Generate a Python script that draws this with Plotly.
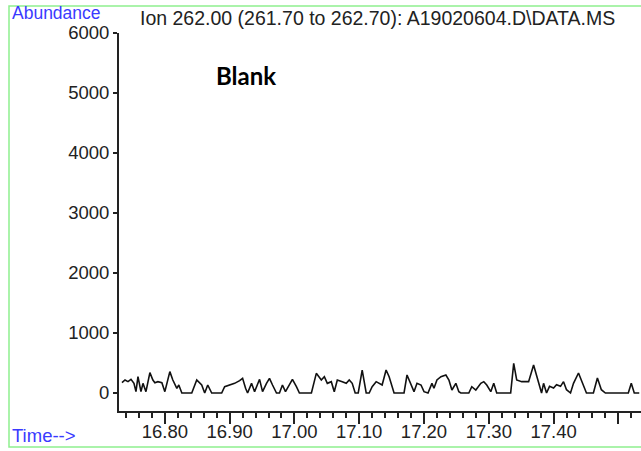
import plotly.graph_objects as go

# Retention time (min) and abundance for ion 262.00
time_min = [16.7338, 16.7385, 16.7431, 16.7477, 16.7523, 16.7554, 16.7585, 16.7631, 16.7662, 16.7708,
            16.7769, 16.7815, 16.7846, 16.7892, 16.7954, 16.8000, 16.8077, 16.8123, 16.8185, 16.8215,
            16.8262, 16.8415, 16.8492, 16.8569, 16.8615, 16.8662, 16.8723, 16.8877, 16.8923, 16.9000,
            16.9077, 16.9154, 16.9200, 16.9246, 16.9277, 16.9338, 16.9385, 16.9462, 16.9508, 16.9569,
            16.9615, 16.9662, 16.9723, 16.9769, 16.9815, 16.9862, 16.9923, 16.9969, 17.0031, 17.0077,
            17.0262, 17.0338, 17.0415, 17.0462, 17.0508, 17.0569, 17.0615, 17.0662, 17.0738, 17.0800,
            17.0846, 17.0892, 17.0938, 17.0985, 17.1046, 17.1108, 17.1154, 17.1200, 17.1262, 17.1308,
            17.1354, 17.1415, 17.1462, 17.1538, 17.1692, 17.1738, 17.1800, 17.1846, 17.1892, 17.1954,
            17.2000, 17.2062, 17.2123, 17.2154, 17.2200, 17.2262, 17.2338, 17.2385, 17.2431, 17.2492,
            17.2538, 17.2569, 17.2692, 17.2738, 17.2800, 17.2877, 17.2923, 17.2969, 17.3031, 17.3077,
            17.3123, 17.3338, 17.3385, 17.3431, 17.3508, 17.3615, 17.3692, 17.3769, 17.3815, 17.3846,
            17.3892, 17.3938, 17.4000, 17.4046, 17.4108, 17.4154, 17.4200, 17.4262, 17.4308, 17.4385,
            17.4446, 17.4508, 17.4615, 17.4677, 17.4738, 17.4800, 17.5154, 17.5200, 17.5246, 17.5323]
abundance = [172, 217, 189, 228, 161, 22, 272, 22, 161, 22,
             339, 217, 172, 189, 172, 22, 356, 217, 78, 133,
             0, 0, 217, 133, 0, 133, 0, 0, 105, 133,
             161, 205, 244, 78, 0, 161, 22, 228, 22, 161,
             244, 133, 0, 0, 133, 22, 133, 228, 105, 0,
             0, 328, 217, 272, 161, 189, 22, 217, 189, 161,
             217, 161, 0, 0, 383, 0, 0, 105, 189, 161,
             133, 383, 272, 0, 0, 300, 133, 22, 161, 133,
             22, 0, 161, 78, 217, 272, 300, 217, 50, 161,
             22, 0, 0, 105, 50, 161, 189, 133, 22, 161,
             0, 0, 494, 217, 189, 189, 467, 161, 0, 161,
             0, 111, 83, 139, 111, 189, 55, 0, 161, 333,
             161, 0, 0, 250, 55, 0, 0, 161, 0, 0]

x_tick_vals = [16.80, 16.90, 17.00, 17.10, 17.20, 17.30, 17.40, 17.50]
x_tick_text = ["16.80", "16.90", "17.00", "17.10", "17.20", "17.30", "17.40", ""]
y_tick_vals = [0, 1000, 2000, 3000, 4000, 5000, 6000]
y_tick_text = ["0", "1000", "2000", "3000", "4000", "5000", "6000"]

title_text = "Ion 262.00 (261.70 to 262.70): A19020604.D\\DATA.MS"
sample_label = "Blank"

FONT = "Liberation Sans, Arial, sans-serif"
FS = 18.5
W, H = 641, 451
L, R, T, B = 119, 0, 33, 40
pw, ph = W - L - R, H - T - B


def px(xp):
    return (xp - L) / pw


def py(yp):
    return (H - B - yp) / ph


fig = go.Figure()
fig.add_trace(go.Scatter(x=time_min, y=abundance, mode="lines",
                         line=dict(color="#111111", width=1.6),
                         hoverinfo="x+y", showlegend=False))

fig.update_layout(
    width=W, height=H,
    margin=dict(l=L, r=R, t=T, b=B, pad=0),
    paper_bgcolor="white", plot_bgcolor="white",
    font=dict(family=FONT, size=FS, color="#222222"),
    xaxis=dict(range=[16.7292, 17.535], showgrid=False, zeroline=False,
               showline=True, linecolor="#222222", linewidth=2,
               tickmode="array", tickvals=x_tick_vals, ticktext=x_tick_text,
               ticks="outside", ticklen=11, tickwidth=1.5, tickcolor="#222222",
               ticklabelstandoff=-8,
               minor=dict(dtick=0.02, tick0=16.74, ticks="outside", ticklen=5,
                          tickwidth=1.5, tickcolor="#222222", showgrid=False),
               tickfont=dict(family=FONT, size=FS, color="#222222")),
    yaxis=dict(range=[-300, 6000], showgrid=False, zeroline=False,
               showline=True, linecolor="#222222", linewidth=2,
               tickmode="array", tickvals=y_tick_vals, ticktext=y_tick_text,
               ticks="outside", ticklen=4, tickwidth=1.5, tickcolor="#222222",
               tickfont=dict(family=FONT, size=FS, color="#222222")),
)

# green frame around whole panel
fig.add_shape(type="rect", xref="paper", yref="paper",
              x0=px(9), x1=px(646), y0=py(447), y1=py(6),
              line=dict(color="#8ef08e", width=1.5), fillcolor="rgba(0,0,0,0)")

fig.add_annotation(text="Abundance", xref="paper", yref="paper",
                   x=px(10), y=py(13), xanchor="left", yanchor="middle",
                   showarrow=False, font=dict(family=FONT, size=17.5, color="#3a3aff"))
fig.add_annotation(text="Time-->", xref="paper", yref="paper",
                   x=px(10), y=py(436), xanchor="left", yanchor="middle",
                   showarrow=False, font=dict(family=FONT, size=18.5, color="#3a3aff"))
fig.add_annotation(text=title_text, xref="paper", yref="paper",
                   x=px(138), y=py(18), xanchor="left", yanchor="middle",
                   showarrow=False, font=dict(family=FONT, size=19.5, color="#222222"))
fig.add_annotation(text="<b>" + sample_label + "</b>", xref="paper", yref="paper",
                   x=px(214), y=py(75), xanchor="left", yanchor="middle",
                   showarrow=False, font=dict(family="Lato, Noto Sans, sans-serif", size=24, color="#000000"))

fig.write_html("out.html")
